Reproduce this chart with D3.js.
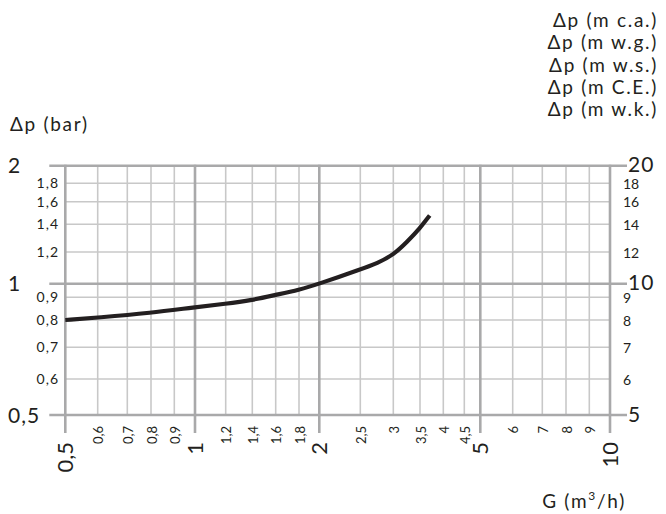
<!DOCTYPE html>
<html>
<head>
<meta charset="utf-8">
<script src="https://cdn.jsdelivr.net/npm/d3@7"></script>
<style>
  body { margin: 0; background: #fff; }
  text { font-family: Lato, "Open Sans", sans-serif; fill: #231f20; }
  .title { font-size: 19px; letter-spacing: 1.7px; }
</style>
</head>
<body>
<svg id="chart" width="666" height="514"></svg>
<script>
// flow rate G (m3/h) and pressure drop dp (bar)
var flow = [0.5, 0.6, 0.8, 1, 1.2, 1.4, 1.6, 1.8, 2, 2.5, 2.75, 3, 3.25, 3.5, 3.7];
var dropBar = [0.80, 0.81, 0.83, 0.855, 0.87, 0.887, 0.917, 0.953, 1.0, 1.085, 1.125, 1.18, 1.27, 1.37, 1.475];

// grid / tick values
var xMajor = [0.5, 1, 2, 5, 10];
var xMinor = [0.6, 0.7, 0.8, 0.9, 1.2, 1.4, 1.6, 1.8, 2.5, 3, 3.5, 4, 4.5, 6, 7, 8, 9];
var yMajor = [0.5, 1, 2];
var yMinor = [0.6, 0.7, 0.8, 0.9, 1.2, 1.4, 1.6, 1.8];
var rightMajorLabels = ["5", "10", "20"];
var rightMinorLabels = ["6", "7", "8", "9", "12", "14", "16", "18"];
var rightTitles = ["\u0394p (m c.a.)", "\u0394p (m w.g.)", "\u0394p (m w.s.)", "\u0394p (m C.E.)", "\u0394p (m w.k.)"];

var comma = function (v) { return String(v).replace(".", ","); };

var svg = d3.select("#chart");

// the printed grid is not a perfect log grid, so both scales are broken
// at every grid line to follow it
var x = d3.scaleLog()
    .domain([0.5, 0.6, 0.7, 0.8, 0.9, 1, 1.2, 1.4, 1.6, 1.8, 2, 2.5, 3, 3.5, 4, 4.5, 5, 6, 7, 8, 9, 10])
    .range([65.3, 97.7, 127.3, 151, 174.3, 195, 225.7, 252.3, 275.7, 299, 319.3,
            360.3, 393.3, 420, 443.3, 464.3, 480.3, 512.7, 542.3, 566, 589.3, 610]);
var y = d3.scaleLog()
    .domain([0.5, 0.6, 0.7, 0.8, 0.9, 1, 1.2, 1.4, 1.6, 1.8, 2])
    .range([415, 379, 347.3, 320, 297.3, 283.7, 252, 224.3, 201.7, 183.3, 165.7]);

var minorStroke = "#c8c8c8", majorStroke = "#a9a9aa";

// minor grid
svg.append("g").selectAll("line")
    .data(xMinor)
    .enter().append("line")
    .attr("x1", function (d) { return x(d); })
    .attr("x2", function (d) { return x(d); })
    .attr("y1", y(2))
    .attr("y2", y(0.5))
    .attr("stroke", minorStroke)
    .attr("stroke-width", 1.6);

svg.append("g").selectAll("line")
    .data(yMinor)
    .enter().append("line")
    .attr("y1", function (d) { return y(d); })
    .attr("y2", function (d) { return y(d); })
    .attr("x1", x(0.5))
    .attr("x2", x(10))
    .attr("stroke", minorStroke)
    .attr("stroke-width", 1.6);

// major grid, sticking out past the frame
svg.append("g").selectAll("line")
    .data(yMajor)
    .enter().append("line")
    .attr("y1", function (d) { return y(d); })
    .attr("y2", function (d) { return y(d); })
    .attr("x1", x(0.5) - 16)
    .attr("x2", x(10) + 17)
    .attr("stroke", majorStroke)
    .attr("stroke-width", 2.6);

svg.append("g").selectAll("line")
    .data(xMajor)
    .enter().append("line")
    .attr("x1", function (d) { return x(d); })
    .attr("x2", function (d) { return x(d); })
    .attr("y1", y(2) - 1)
    .attr("y2", y(0.5) + 18)
    .attr("stroke", majorStroke)
    .attr("stroke-width", 2.6);

// curve (b-spline evens out reading noise)
var line = d3.line()
    .x(function (d) { return x(d[0]); })
    .y(function (d) { return y(d[1]); })
    .curve(d3.curveBasis);

svg.append("path")
    .datum(d3.zip(flow, dropBar))
    .attr("fill", "none")
    .attr("stroke", "#231f20")
    .attr("stroke-width", 4.2)
    .attr("d", line);

// left axis labels (bar)
svg.append("g").selectAll("text")
    .data(yMajor)
    .enter().append("text")
    .attr("x", 8)
    .attr("y", function (d) { return y(d); })
    .attr("dy", ".36em")
    .style("font-size", "21px")
    .style("letter-spacing", "1px")
    .text(comma);

svg.append("g").selectAll("text")
    .data(yMinor)
    .enter().append("text")
    .attr("x", 59)
    .attr("y", function (d) { return y(d); })
    .attr("dy", ".36em")
    .attr("text-anchor", "end")
    .style("font-size", "14px")
    .style("letter-spacing", "1px")
    .text(comma);

// right axis labels (m water column)
svg.append("g").selectAll("text")
    .data(yMajor)
    .enter().append("text")
    .attr("x", 628)
    .attr("y", function (d) { return y(d); })
    .attr("dy", ".32em")
    .style("font-size", "21px")
    .style("letter-spacing", "1px")
    .text(function (d, i) { return rightMajorLabels[i]; });

svg.append("g").selectAll("text")
    .data(yMinor)
    .enter().append("text")
    .attr("x", 623)
    .attr("y", function (d) { return y(d); })
    .attr("dy", ".4em")
    .style("font-size", "14px")
    .text(function (d, i) { return rightMinorLabels[i]; });

// bottom labels, rotated
svg.append("g").selectAll("text")
    .data(xMajor)
    .enter().append("text")
    .attr("transform", function (d) { return "translate(" + x(d) + ",442) rotate(-90)"; })
    .attr("dy", ".36em")
    .attr("text-anchor", "end")
    .style("font-size", "22px")
    .text(comma);

svg.append("g").selectAll("text")
    .data(xMinor)
    .enter().append("text")
    .attr("transform", function (d) { return "translate(" + (x(d) + 1) + ",426) rotate(-90)"; })
    .attr("dy", ".36em")
    .attr("text-anchor", "end")
    .style("font-size", "13px")
    .text(comma);

// titles
svg.append("text")
    .attr("class", "title")
    .attr("x", 10)
    .attr("y", 131)
    .text("\u0394p (bar)");

svg.append("g").selectAll("text")
    .data(rightTitles)
    .enter().append("text")
    .attr("class", "title")
    .attr("x", 658)
    .attr("y", function (d, i) { return 27 + i * 22.3; })
    .attr("text-anchor", "end")
    .text(function (d) { return d; });

var gt = svg.append("text")
    .attr("class", "title")
    .attr("x", 626)
    .attr("y", 508)
    .attr("text-anchor", "end");
gt.append("tspan").text("G (m");
gt.append("tspan").attr("dy", -8).style("font-size", "12px").text("3");
gt.append("tspan").attr("dy", 8).text("/h)");
</script>
</body>
</html>
